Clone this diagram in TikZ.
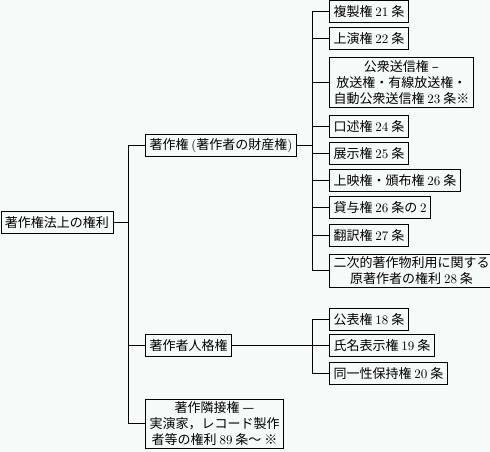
\documentclass[tikz,border=0pt]{standalone}
\usepackage{fontspec}
\usepackage{tikz}
\usetikzlibrary{positioning,calc}
\setmainfont{Noto Sans CJK JP}
\newfontfamily\numfont{Latin Modern Roman}
\definecolor{paper}{HTML}{F5FBF8}
\newcommand{\nm}[1]{{\numfont #1}}

\begin{document}
\begin{tikzpicture}[
  x=0.75pt, y=-0.75pt,
  box/.style={draw, line width=0.75pt, fill=paper, anchor=west, inner xsep=3pt, inner ysep=2pt,
    minimum height=16.5pt, align=center, font=\fontsize{9.75pt}{12pt}\selectfont},
  conn/.style={line width=0.75pt}
]
  % Background
  \fill[paper] (0,0) rectangle (490,452);
  \useasboundingbox (0,0) rectangle (490,452);

  % Root
  \node[box] (root) at (0.5,223) {著作権法上の権利};
  \coordinate (j0) at (128,223);

  % Level 1
  \node[box] (econ) at (145,146) {著作権 \nm{(}著作者の財産権\nm{)}};
  \node[box] (moral) at (145,346) {著作者人格権};
  \node[box] (neigh) at (145,424) {著作隣接権 —\\実演家，レコード製作\\者等の権利 \nm{89} 条〜 ※};

  % Economic rights
  \coordinate (j1) at (312,146);
  \node[box] (e21) at (329,12) {複製権 \nm{21} 条};
  \node[box] (e22) at (329,39) {上演権 \nm{22} 条};
  \node[box] (e23) at (329,82.5) {公衆送信権 –\\放送権・有線放送権・\\自動公衆送信権 \nm{23} 条※};
  \node[box] (e24) at (329,126.5) {口述権 \nm{24} 条};
  \node[box] (e25) at (329,153.5) {展示権 \nm{25} 条};
  \node[box] (e26) at (329,180.5) {上映権・頒布権 \nm{26} 条};
  \node[box] (e26b) at (329,207.5) {貸与権 \nm{26} 条の \nm{2}};
  \node[box] (e27) at (329,236) {翻訳権 \nm{27} 条};
  \node[box] (e28) at (329,271) {二次的著作物利用に関する\\原著作者の権利 \nm{28} 条};

  % Moral rights
  \coordinate (j2) at (312,346);
  \node[box] (m18) at (329,319.5) {公表権 \nm{18} 条};
  \node[box] (m19) at (329,346) {氏名表示権 \nm{19} 条};
  \node[box] (m20) at (329,373.5) {同一性保持権 \nm{20} 条};

  % Connectors
  \draw[conn] (root) -- (j0);
  \foreach \n in {econ,moral,neigh}
    \draw[conn] (j0) |- (\n.west);
  \draw[conn] (econ) -- (j1);
  \foreach \n in {e21,e22,e23,e24,e25,e26,e26b,e27,e28}
    \draw[conn] (j1) |- (\n.west);
  \draw[conn] (moral) -- (j2);
  \foreach \n in {m18,m19,m20}
    \draw[conn] (j2) |- (\n.west);
\end{tikzpicture}
\end{document}
